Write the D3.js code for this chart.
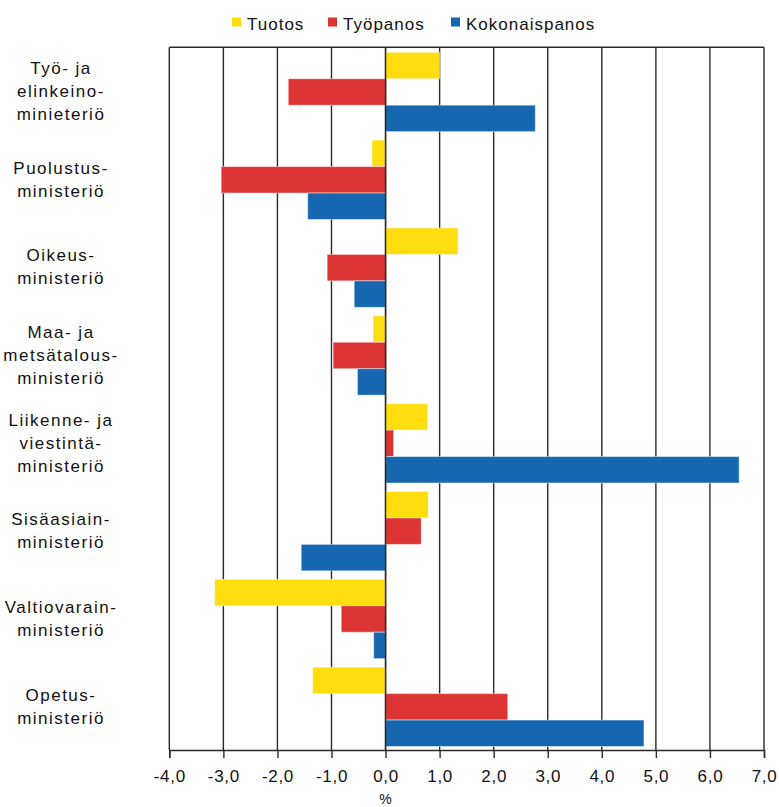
<!DOCTYPE html>
<html><head><meta charset="utf-8">
<script src="https://cdn.jsdelivr.net/npm/d3@7"></script>
<style>body{margin:0;background:#fff}svg{display:block}text{font-family:"Liberation Sans",Arial,sans-serif;fill:#111}</style>
</head><body><svg id="c" width="779" height="807"></svg>
<script>
const categories = [
  ["Työ- ja","elinkeino-","minieteriö"],
  ["Puolustus-","ministeriö"],
  ["Oikeus-","ministeriö"],
  ["Maa- ja","metsätalous-","ministeriö"],
  ["Liikenne- ja","viestintä-","ministeriö"],
  ["Sisäasiain-","ministeriö"],
  ["Valtiovarain-","ministeriö"],
  ["Opetus-","ministeriö"]
];
const seriesNames = ["Tuotos","Työpanos","Kokonaispanos"];
const seriesColors = ["#FFDD0F","#DC3333","#1767B0"];
const tuotos = [1.0,-0.25,1.34,-0.23,0.78,0.79,-3.16,-1.35];
const tyopanos = [-1.8,-3.04,-1.08,-0.97,0.15,0.66,-0.82,2.26];
const kokonaispanos = [2.77,-1.44,-0.58,-0.52,6.54,-1.56,-0.22,4.78];
const xTicks = [-4,-3,-2,-1,0,1,2,3,4,5,6,7];

(function(){
const values = [tuotos, tyopanos, kokonaispanos];
const svg = d3.select("#c");
const pL = 169.3, pR = 764, pT = 47.3, pB = 750;
const x = d3.scaleLinear().domain([-4,7]).range([pL,pR]);
const y = d3.scaleBand().domain(d3.range(categories.length)).range([pT,pB]);
const ys = d3.scaleBand().domain(d3.range(seriesNames.length)).range([5, y.bandwidth()-3.5]);
const fmt = v => d3.format(".1f")(v).replace(".",",").replace("−","-");

svg.append("g").selectAll("line").data(xTicks).join("line")
  .attr("x1",d=>x(d)).attr("x2",d=>x(d)).attr("y1",pT).attr("y2",pB)
  .attr("stroke","#2a2a2a").attr("stroke-width",1.4);
svg.append("line").attr("x1",pL).attr("x2",pR).attr("y1",pT).attr("y2",pT)
  .attr("stroke","#2a2a2a").attr("stroke-width",1.4);

values.forEach((arr,si)=>{
  svg.append("g").selectAll("rect").data(arr).join("rect")
    .attr("x",d=>x(Math.min(0,d)))
    .attr("width",d=>Math.abs(x(d)-x(0)))
    .attr("y",(d,i)=>y(i)+ys(si))
    .attr("height",ys.bandwidth())
    .attr("fill",seriesColors[si])
    .attr("stroke","rgba(255,255,255,0.45)").attr("stroke-width",1);
});
svg.append("line").attr("x1",x(0)).attr("x2",x(0)).attr("y1",pT).attr("y2",pB)
  .attr("stroke","#2a2a2a").attr("stroke-width",1.4);

const ax = svg.append("g").attr("transform",`translate(0,${pB})`)
  .call(d3.axisBottom(x).tickValues(xTicks).tickFormat(fmt).tickSize(8).tickPadding(12));
ax.select(".domain").attr("stroke","#2a2a2a").attr("stroke-width",1.4);
ax.selectAll(".tick line").attr("stroke","#2a2a2a").attr("stroke-width",1.4);
ax.selectAll("text").attr("font-size",17).attr("fill","#111").style("letter-spacing","0.7px")
  .attr("font-family","'Liberation Sans',Arial,sans-serif");
svg.append("text").attr("x",x(0)).attr("y",804).attr("text-anchor","middle")
  .attr("font-size",14).text("%");

categories.forEach((lines,i)=>{
  const cy = y(i)+y.bandwidth()/2;
  const lh = 23;
  const t = svg.append("text").attr("text-anchor","middle").attr("font-size",17)
    .style("letter-spacing","1.5px");
  lines.forEach((l,k)=>{
    t.append("tspan").attr("x",61)
      .attr("y", cy + (k-(lines.length-1)/2)*lh + 6)
      .text(l);
  });
});

const legX = [232, 328, 451];
seriesNames.forEach((n,i)=>{
  svg.append("rect").attr("x",legX[i]).attr("y",17.5).attr("width",9).attr("height",9)
    .attr("fill",seriesColors[i]);
  svg.append("text").attr("x",legX[i]+15).attr("y",30).attr("font-size",17)
    .style("letter-spacing","1px").text(n);
});
})();
</script></body></html>
